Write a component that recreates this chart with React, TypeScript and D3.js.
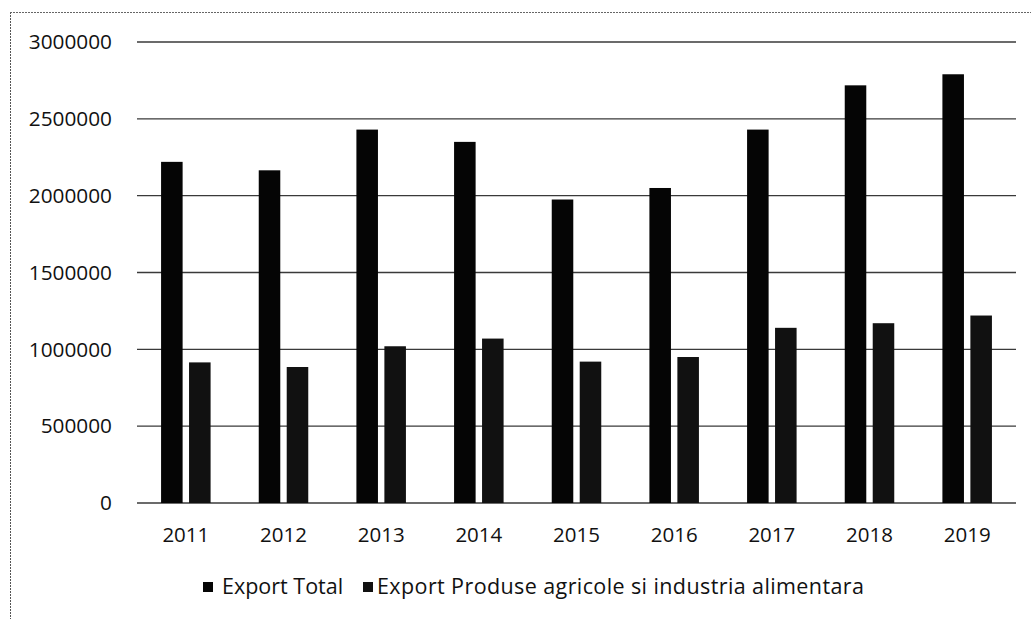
import * as d3 from "d3";

const WIDTH = 1031;
const HEIGHT = 619;
const MARGIN = { top: 42, right: 15, bottom: 116, left: 137 };
const FONT = "'Open Sans', Lato, sans-serif";

const years = ["2011", "2012", "2013", "2014", "2015", "2016", "2017", "2018", "2019"];
const seriesNames = ["Export Total", "Export Produse agricole si industria alimentara"];
const exportTotal = [2220000, 2165000, 2430000, 2350000, 1975000, 2050000, 2430000, 2718000, 2790000];
const exportAgri = [915000, 885000, 1020000, 1070000, 920000, 950000, 1140000, 1170000, 1220000];
const yTicks = [0, 500000, 1000000, 1500000, 2000000, 2500000, 3000000];
const seriesColors = ["#050505", "#111111"];

export default function App() {
  const x0 = d3
    .scaleBand()
    .domain(years)
    .range([MARGIN.left, WIDTH - MARGIN.right])
    .paddingInner(0.493)
    .paddingOuter(0.2465);

  const x1 = d3.scaleBand().domain(seriesNames).range([0, x0.bandwidth()]).paddingInner(0.23);

  const y = d3
    .scaleLinear()
    .domain([0, 3000000])
    .range([HEIGHT - MARGIN.bottom, MARGIN.top]);

  const values = [exportTotal, exportAgri];

  return (
    <svg
      width={WIDTH}
      height={HEIGHT}
      viewBox={`0 0 ${WIDTH} ${HEIGHT}`}
      style={{ position: "absolute", left: 0, top: 0, background: "#fff" }}
    >
      {/* dotted frame of the scanned chart */}
      <line x1={10.5} x2={10.5} y1={12} y2={HEIGHT} stroke="#555" strokeWidth={1} strokeDasharray="2 1" />
      <line x1={10} x2={WIDTH} y1={12.5} y2={12.5} stroke="#666" strokeWidth={1} strokeDasharray="2 1" />

      {yTicks.map((t) => (
        <g key={`y-${t}`}>
          <line
            x1={MARGIN.left}
            x2={WIDTH - MARGIN.right}
            y1={y(t)}
            y2={y(t)}
            stroke="#3a3a3a"
            strokeWidth={1.3}
          />
          <text
            x={112}
            y={y(t)}
            dy="0.35em"
            textAnchor="end"
            fontFamily={FONT}
            fontSize={20.8}
            fill="#111"
          >
            {t}
          </text>
        </g>
      ))}

      {years.map((yr, i) => (
        <g key={yr} transform={`translate(${x0(yr)},0)`}>
          {seriesNames.map((s, j) => (
            <rect
              key={s}
              x={x1(s)}
              y={y(values[j][i])}
              width={x1.bandwidth()}
              height={y(0) - y(values[j][i])}
              fill={seriesColors[j]}
            />
          ))}
        </g>
      ))}

      {years.map((yr) => (
        <text
          key={`x-${yr}`}
          x={(x0(yr) ?? 0) + x0.bandwidth() / 2}
          y={542}
          textAnchor="middle"
          fontFamily={FONT}
          fontSize={20.5}
          fill="#111"
        >
          {yr}
        </text>
      ))}

      <g fontFamily={FONT} fontSize={21.5} fill="#111">
        <rect x={203} y={582} width={10} height={10} fill={seriesColors[0]} />
        <text x={222} y={594}>
          {seriesNames[0]}
        </text>
        <rect x={363} y={582} width={10} height={10} fill={seriesColors[1]} />
        <text x={377} y={594} letterSpacing={0.4}>
          {seriesNames[1]}
        </text>
      </g>
    </svg>
  );
}
